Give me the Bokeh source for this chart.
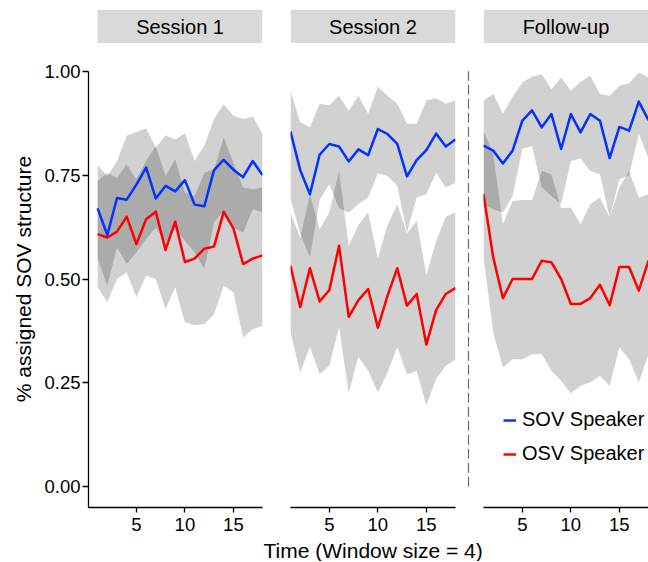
from bokeh.plotting import figure
from bokeh.layouts import row, column
from bokeh.models import Range1d, FixedTicker, PrintfTickFormatter, Legend, LegendItem
from bokeh.embed import file_html
from bokeh.resources import INLINE
import math

# ---------------- data ----------------
PANELS = ["Session 1", "Session 2", "Follow-up"]
LEGEND = ["SOV Speaker", "OSV Speaker"]
YLABEL = "% assigned SOV structure"
XLABEL = "Time (Window size = 4)"
X = [1, 2, 3, 4, 5, 6, 7, 8, 9, 10, 11, 12, 13, 14, 15, 16, 17, 18]
X_TICKS = [5, 10, 15]
Y_TICKS = [0.0, 0.25, 0.5, 0.75, 1.0]

# Session 1
sov_mean1 = [0.670, 0.606, 0.695, 0.691, 0.727, 0.768, 0.694, 0.724, 0.711, 0.738, 0.679, 0.675, 0.762, 0.787, 0.763, 0.745, 0.784, 0.750]
sov_hi1 = [0.774, 0.748, 0.784, 0.845, 0.854, 0.863, 0.816, 0.846, 0.836, 0.851, 0.784, 0.821, 0.885, 0.921, 0.893, 0.885, 0.891, 0.849]
sov_lo1 = [0.548, 0.484, 0.576, 0.536, 0.564, 0.596, 0.624, 0.588, 0.620, 0.592, 0.564, 0.524, 0.636, 0.664, 0.624, 0.612, 0.668, 0.660]
osv_mean1 = [0.608, 0.600, 0.614, 0.650, 0.584, 0.644, 0.662, 0.570, 0.638, 0.541, 0.549, 0.573, 0.578, 0.662, 0.622, 0.536, 0.549, 0.557]
osv_hi1 = [0.736, 0.755, 0.744, 0.776, 0.740, 0.784, 0.820, 0.748, 0.788, 0.708, 0.700, 0.756, 0.764, 0.841, 0.780, 0.720, 0.716, 0.720]
osv_lo1 = [0.480, 0.444, 0.500, 0.516, 0.456, 0.508, 0.500, 0.428, 0.480, 0.395, 0.389, 0.391, 0.415, 0.484, 0.468, 0.359, 0.379, 0.387]

# Session 2
sov_mean2 = [0.855, 0.762, 0.704, 0.799, 0.825, 0.819, 0.783, 0.812, 0.798, 0.861, 0.849, 0.825, 0.747, 0.786, 0.810, 0.850, 0.819, 0.836]
sov_hi2 = [0.953, 0.878, 0.865, 0.922, 0.918, 0.941, 0.905, 0.941, 0.898, 0.963, 0.941, 0.922, 0.874, 0.873, 0.930, 0.935, 0.922, 0.930]
sov_lo2 = [0.692, 0.610, 0.552, 0.690, 0.728, 0.670, 0.660, 0.680, 0.696, 0.754, 0.748, 0.724, 0.612, 0.696, 0.704, 0.756, 0.720, 0.732]
osv_mean2 = [0.532, 0.432, 0.526, 0.446, 0.473, 0.580, 0.409, 0.449, 0.476, 0.383, 0.460, 0.526, 0.436, 0.464, 0.342, 0.425, 0.464, 0.478]
osv_hi2 = [0.660, 0.600, 0.704, 0.620, 0.660, 0.760, 0.580, 0.630, 0.660, 0.550, 0.630, 0.680, 0.610, 0.640, 0.510, 0.590, 0.650, 0.660]
osv_lo2 = [0.371, 0.275, 0.337, 0.271, 0.291, 0.383, 0.227, 0.313, 0.279, 0.227, 0.275, 0.337, 0.270, 0.279, 0.195, 0.259, 0.291, 0.307]

# Follow-up
sov_mean3 = [0.821, 0.809, 0.778, 0.809, 0.881, 0.906, 0.865, 0.897, 0.813, 0.897, 0.853, 0.897, 0.881, 0.791, 0.866, 0.857, 0.927, 0.882]
sov_hi3 = [0.930, 0.945, 0.898, 0.939, 0.973, 0.987, 0.993, 0.957, 0.985, 0.953, 0.975, 0.989, 0.945, 0.941, 0.965, 0.971, 0.997, 0.985]
sov_lo3 = [0.680, 0.668, 0.660, 0.700, 0.813, 0.820, 0.720, 0.700, 0.680, 0.784, 0.790, 0.760, 0.752, 0.648, 0.740, 0.750, 0.850, 0.790]
osv_mean3 = [0.704, 0.552, 0.454, 0.500, 0.500, 0.500, 0.544, 0.540, 0.500, 0.440, 0.440, 0.454, 0.486, 0.437, 0.529, 0.529, 0.472, 0.544]
osv_hi3 = [0.857, 0.800, 0.632, 0.688, 0.690, 0.690, 0.760, 0.752, 0.670, 0.672, 0.632, 0.680, 0.696, 0.648, 0.720, 0.760, 0.696, 0.704]
osv_lo3 = [0.552, 0.371, 0.287, 0.307, 0.307, 0.319, 0.319, 0.279, 0.255, 0.225, 0.243, 0.251, 0.267, 0.243, 0.335, 0.307, 0.251, 0.319]

SERIES = [
    (sov_mean1, sov_lo1, sov_hi1, osv_mean1, osv_lo1, osv_hi1),
    (sov_mean2, sov_lo2, sov_hi2, osv_mean2, osv_lo2, osv_hi2),
    (sov_mean3, sov_lo3, sov_hi3, osv_mean3, osv_lo3, osv_hi3),
]

# ---------------- style ----------------
FONT = "Liberation Sans"
BLUE = "#0033ff"
RED = "#ff0000"
RIBBON = "black"
RIBBON_ALPHA = 0.18
STRIP_FILL = "#d9d9d9"
FRAME_H = 457
STRIP_TOP = 9
STRIP_H = 34
TOP_GAP = 7
BOTTOM = 31
XLAB_H = 23
XLAB_X = 0.575   # horizontal position of the x title (fraction of page width)
OVERLAP = 12     # the y-title strip is overlapped by the empty left border of panel 1

yr = Range1d(-0.05, 1.05)
Y_AXIS_BOUNDS = (-0.05, 1.0)


def bare(p):
    p.xgrid.visible = False
    p.ygrid.visible = False
    p.outline_line_color = None
    p.background_fill_color = "white"
    p.border_fill_color = "white"


def style_axis(ax):
    ax.axis_label = None
    ax.axis_line_color = "black"
    ax.axis_line_width = 1.3
    ax.major_tick_line_color = "black"
    ax.major_tick_line_width = 1.3
    ax.major_tick_in = 0
    ax.major_tick_out = 5
    ax.minor_tick_line_color = None
    ax.major_label_text_font = FONT
    ax.major_label_text_font_size = "18.5px"
    ax.major_label_text_color = "black"


def plain_fig(fw, fh, left, right, top, bottom, xr, y_range):
    p = figure(frame_width=fw, frame_height=fh, min_border_left=left, min_border_right=right,
               min_border_top=top, min_border_bottom=bottom, x_range=xr, y_range=y_range,
               x_axis_location=None, y_axis_location=None, toolbar_location=None, output_backend="svg")
    bare(p)
    return p


def strip_fig(name, xr, left, fw, right):
    # strip header spans the data range of its panel (x = first .. last window)
    s = plain_fig(fw, STRIP_H, left, right, STRIP_TOP, 0, xr, Range1d(0, 1))
    s.quad(left=[X[0]], right=[X[-1]], bottom=[0], top=[1], fill_color=STRIP_FILL, line_color=None)
    s.text(x=[(X[0] + X[-1]) / 2], y=[0.5], text=[name], text_align="center", text_baseline="middle",
           text_font={"value": FONT}, text_font_size={"value": "20px"}, text_color="black")
    return s


def main_fig(xr, left, fw, right, show_y, series):
    p = figure(frame_width=fw, frame_height=FRAME_H, min_border_left=left, min_border_right=right,
               min_border_top=TOP_GAP, min_border_bottom=BOTTOM, x_range=xr, y_range=yr,
               y_axis_location="left" if show_y else None,
               toolbar_location=None, output_backend="svg")
    bare(p)
    sm, sl, sh, om, ol, oh = series
    p.varea(x=X, y1=sl, y2=sh, fill_color=RIBBON, fill_alpha=RIBBON_ALPHA)
    p.varea(x=X, y1=ol, y2=oh, fill_color=RIBBON, fill_alpha=RIBBON_ALPHA)
    r1 = p.line(x=X, y=sm, line_color=BLUE, line_width=2.5, line_join="round")
    r2 = p.line(x=X, y=om, line_color=RED, line_width=2.5, line_join="round")
    p.xaxis.ticker = FixedTicker(ticks=X_TICKS)
    style_axis(p.xaxis[0])
    p.xaxis.major_label_standoff = 5
    if show_y:
        p.yaxis.ticker = FixedTicker(ticks=Y_TICKS)
        p.yaxis.formatter = PrintfTickFormatter(format="%.2f")
        style_axis(p.yaxis[0])
        p.yaxis.bounds = Y_AXIS_BOUNDS
        p.yaxis.major_tick_out = 6
        p.yaxis.major_label_standoff = 2
    return p, r1, r2


# y axis title strip
ylab = plain_fig(30, FRAME_H, 8, 0, STRIP_TOP + STRIP_H + TOP_GAP, BOTTOM, Range1d(0, 1), yr)
ylab.text(x=[0.5], y=[(Y_TICKS[0] + Y_TICKS[-1]) / 2], text=[YLABEL], angle=math.pi / 2,
          text_align="center", text_baseline="middle", text_font={"value": FONT},
          text_font_size={"value": "21px"}, text_color="black")
ylab.margin = (0, -OVERLAP, 0, 0)

# panel 1 (carries the y axis)
xr1 = Range1d(0.06, X[-1])
p1, _, _ = main_fig(xr1, 62, 174, 14, True, SERIES[0])
p1.border_fill_alpha = 0
s1 = strip_fig(PANELS[0], xr1, 62, 174, 14)
s1.border_fill_alpha = 0

# panel 2
xr2 = Range1d(X[0], X[-1])
p2, _, _ = main_fig(xr2, 14, 165, 6, False, SERIES[1])
s2 = strip_fig(PANELS[1], xr2, 14, 165, 6)

# separator (dashed line between sessions and follow-up)
sep = plain_fig(14, FRAME_H, 0, 0, STRIP_TOP + STRIP_H + TOP_GAP, BOTTOM, Range1d(0, 1), yr)
sep.line(x=[0.5, 0.5], y=[Y_TICKS[0], Y_TICKS[-1]], line_color="#6a6a6a", line_width=1.2, line_dash="10 4")

# panel 3
xr3 = Range1d(X[0], X[-1])
p3, r_sov, r_osv = main_fig(xr3, 8, 165, 0, False, SERIES[2])
s3 = strip_fig(PANELS[2], xr3, 8, 165, 0)
legend = Legend(items=[LegendItem(label=LEGEND[0], renderers=[r_sov]),
                       LegendItem(label=LEGEND[1], renderers=[r_osv])],
                location=(20, 42), orientation="vertical", glyph_width=13, glyph_height=20,
                label_standoff=6, spacing=11, padding=0, margin=0, border_line_color=None,
                background_fill_alpha=0, label_text_font=FONT, label_text_font_size="20px",
                label_text_color="black")
p3.add_layout(legend)

# x axis title row
xlab = plain_fig(648, XLAB_H, 0, 0, 0, 0, Range1d(0, 1), Range1d(0, 1))
xlab.text(x=[XLAB_X], y=[0.5], text=[XLABEL], text_align="center", text_baseline="middle",
          text_font={"value": FONT}, text_font_size={"value": "21px"}, text_color="black")

layout = column(row(ylab, column(s1, p1), column(s2, p2), sep, column(s3, p3)), xlab)

open("out.html", "w").write(file_html(layout, INLINE))
